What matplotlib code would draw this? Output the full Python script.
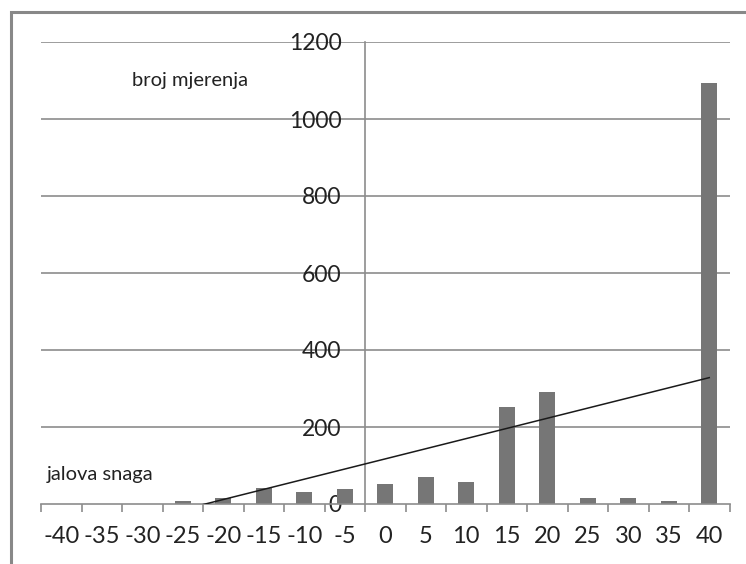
import numpy as np
import matplotlib
matplotlib.use("Agg")
from matplotlib import pyplot as plt
from matplotlib.patches import Rectangle

# categories (jalova snaga) and counts
categories = [-40, -35, -30, -25, -20, -15, -10, -5, 0, 5, 10, 15, 20, 25, 30, 35, 40]
counts = [0, 0, 0, 8, 15, 41, 32, 39, 53, 70, 56, 253, 291, 16, 16, 9, 1093]
yticks = [0, 200, 400, 600, 800, 1000, 1200]

plt.rcParams['font.family'] = ['Lato', 'DejaVu Sans']

W, H = 746, 564
fig = plt.figure(figsize=(W / 100, H / 100), dpi=100)
ax = fig.add_axes([41 / W, 60 / H, (729.5 - 41) / W, (504 - 42) / H])

idx = np.arange(len(categories))
ax.bar(idx, counts, width=0.39, color='#767676', zorder=2)

# linear trendline like excel
k, n = np.polyfit(idx, counts, 1)
ax.plot(idx, k * idx + n, color='#1a1a1a', lw=1.1, zorder=3)

ax.set_xlim(-0.5, len(categories) - 0.5)
ax.set_ylim(0, 1200)

#grid
for v in yticks[1:]:
    ax.axhline(v, color='#8c8c8c', lw=1.2, zorder=1)

for s in ['top', 'right']:
    ax.spines[s].set_visible(False)
ax.spines['left'].set_position(('data', 7.5))
ax.spines['left'].set_color('#8c8c8c')
ax.spines['bottom'].set_color('#8c8c8c')
ax.spines['left'].set_linewidth(1.2)
ax.spines['bottom'].set_linewidth(1.2)

ax.set_yticks(yticks)
ax.set_yticklabels([str(v) for v in yticks], fontsize=16.5, color='#222222')
ax.tick_params(axis='y', length=0, pad=17)

ax.set_xticks(idx)
ax.set_xticklabels([str(c) for c in categories], fontsize=17, color='#222222')
ax.set_xticks(np.arange(-0.5, len(categories), 1), minor=True)
ax.tick_params(axis='x', which='major', length=0, pad=16)
ax.tick_params(axis='x', which='minor', length=6, width=1.2, color='#8c8c8c', direction='out')

ax.text(0.132, 0.9156, 'broj mjerenja', transform=ax.transAxes, fontsize=14.5,
        color='#222222', ha='left', va='center')
ax.text(0.008, 0.063, 'jalova snaga', transform=ax.transAxes, fontsize=14.5,
        color='#222222', ha='left', va='center')

# outer frame, cut off on right and bottom
fig.patches.append(Rectangle((11 / W, -0.1), 1.0, (H - 12) / H + 0.1,
                             transform=fig.transFigure, fill=False,
                             edgecolor='#888888', lw=2.2))

fig.savefig('out.png', dpi=100)
